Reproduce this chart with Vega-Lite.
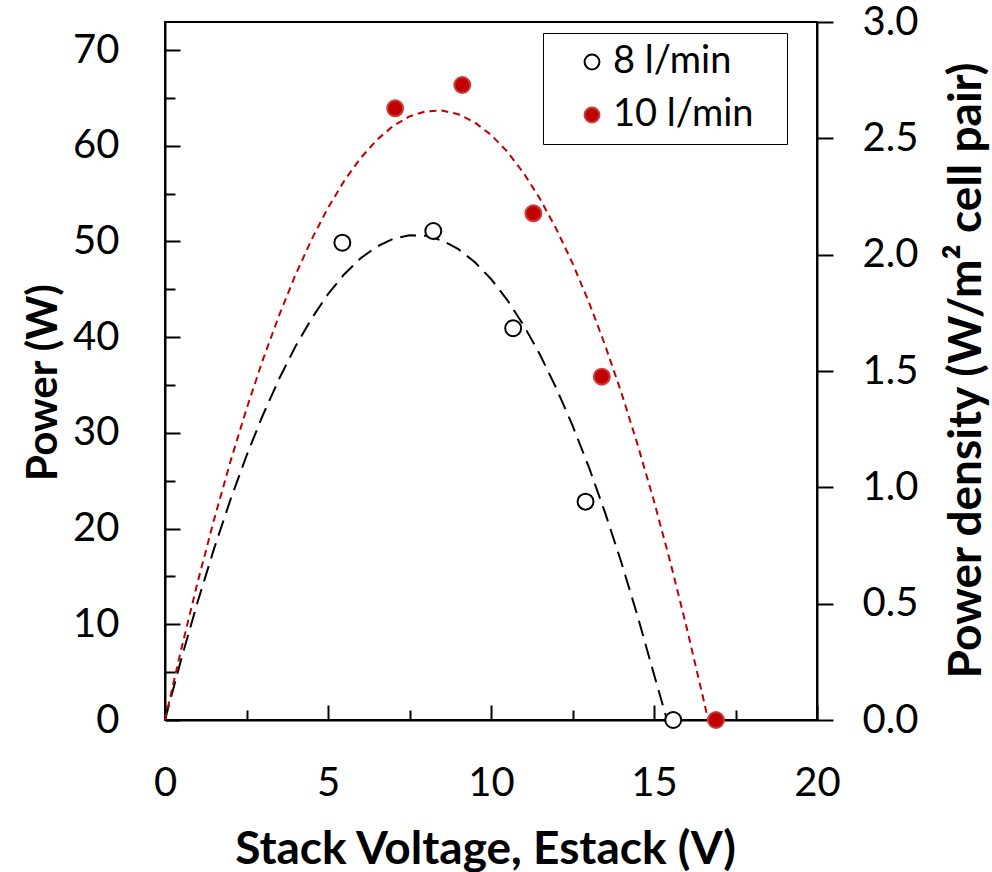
{
  "$schema": "https://vega.github.io/schema/vega-lite/v6.json",
  "width": 652,
  "height": 698,
  "autosize": {"type": "none"},
  "padding": {"left": 165, "top": 22, "right": 175, "bottom": 152},
  "background": "white",
  "config": {
    "font": "Lato",
    "view": {"stroke": "black", "strokeWidth": 2},
    "axis": {
      "grid": false,
      "domainColor": "black",
      "domainWidth": 2,
      "tickColor": "black",
      "tickWidth": 2,
      "labelColor": "black",
      "labelFont": "Lato",
      "labelFontSize": 40,
      "labelFlush": false,
      "labelOverlap": false,
      "titleFont": "Lato",
      "titleFontWeight": "bold",
      "titleFontSize": 46,
      "titleColor": "black"
    },
    "legend": {
      "orient": "none",
      "legendX": 378,
      "legendY": 11,
      "strokeColor": "black",
      "padding": 10,
      "labelFont": "Lato",
      "labelFontSize": 38,
      "labelColor": "black",
      "labelOffset": 2,
      "labelLimit": 400,
      "symbolOffset": 20,
      "rowPadding": 15,
      "symbolSize": 220,
      "symbolStrokeWidth": 2,
      "symbolType": "circle",
      "titleOrient": "right",
      "titleFontSize": 2,
      "titlePadding": 24
    }
  },
  "datasets": {
    "points": [
      {"V": 5.44, "P": 49.87, "flow": "8 l/min"},
      {"V": 8.23, "P": 51.09, "flow": "8 l/min"},
      {"V": 10.68, "P": 40.93, "flow": "8 l/min"},
      {"V": 12.90, "P": 22.81, "flow": "8 l/min"},
      {"V": 15.59, "P": 0, "flow": "8 l/min"},
      {"V": 7.06, "P": 63.91, "flow": "10 l/min"},
      {"V": 9.12, "P": 66.35, "flow": "10 l/min"},
      {"V": 11.30, "P": 52.94, "flow": "10 l/min"},
      {"V": 13.40, "P": 35.87, "flow": "10 l/min"},
      {"V": 16.90, "P": 0, "flow": "10 l/min"}
    ],
    "curves": [
      {"V": 0, "P": 0, "flow": "8 l/min"},
      {"V": 0.5, "P": 6.38, "flow": "8 l/min"},
      {"V": 1, "P": 12.33, "flow": "8 l/min"},
      {"V": 1.5, "P": 17.85, "flow": "8 l/min"},
      {"V": 2, "P": 22.94, "flow": "8 l/min"},
      {"V": 2.5, "P": 27.61, "flow": "8 l/min"},
      {"V": 3, "P": 31.84, "flow": "8 l/min"},
      {"V": 3.5, "P": 35.64, "flow": "8 l/min"},
      {"V": 4, "P": 39.02, "flow": "8 l/min"},
      {"V": 4.5, "P": 41.97, "flow": "8 l/min"},
      {"V": 5, "P": 44.49, "flow": "8 l/min"},
      {"V": 5.5, "P": 46.58, "flow": "8 l/min"},
      {"V": 6, "P": 48.24, "flow": "8 l/min"},
      {"V": 6.5, "P": 49.47, "flow": "8 l/min"},
      {"V": 7, "P": 50.27, "flow": "8 l/min"},
      {"V": 7.5, "P": 50.64, "flow": "8 l/min"},
      {"V": 8, "P": 50.59, "flow": "8 l/min"},
      {"V": 8.5, "P": 50.11, "flow": "8 l/min"},
      {"V": 9, "P": 49.19, "flow": "8 l/min"},
      {"V": 9.5, "P": 47.85, "flow": "8 l/min"},
      {"V": 10, "P": 46.08, "flow": "8 l/min"},
      {"V": 10.5, "P": 43.88, "flow": "8 l/min"},
      {"V": 11, "P": 41.24, "flow": "8 l/min"},
      {"V": 11.5, "P": 38.19, "flow": "8 l/min"},
      {"V": 12, "P": 34.69, "flow": "8 l/min"},
      {"V": 12.5, "P": 30.78, "flow": "8 l/min"},
      {"V": 13, "P": 26.44, "flow": "8 l/min"},
      {"V": 13.5, "P": 21.66, "flow": "8 l/min"},
      {"V": 14, "P": 16.45, "flow": "8 l/min"},
      {"V": 14.5, "P": 10.82, "flow": "8 l/min"},
      {"V": 15, "P": 4.76, "flow": "8 l/min"},
      {"V": 15.4, "P": 0, "flow": "8 l/min"},
      {"V": 0, "P": 0, "flow": "10 l/min"},
      {"V": 0.5, "P": 7.42, "flow": "10 l/min"},
      {"V": 1, "P": 14.38, "flow": "10 l/min"},
      {"V": 1.5, "P": 20.88, "flow": "10 l/min"},
      {"V": 2, "P": 26.92, "flow": "10 l/min"},
      {"V": 2.5, "P": 32.50, "flow": "10 l/min"},
      {"V": 3, "P": 37.62, "flow": "10 l/min"},
      {"V": 3.5, "P": 42.28, "flow": "10 l/min"},
      {"V": 4, "P": 46.49, "flow": "10 l/min"},
      {"V": 4.5, "P": 50.23, "flow": "10 l/min"},
      {"V": 5, "P": 53.52, "flow": "10 l/min"},
      {"V": 5.5, "P": 56.35, "flow": "10 l/min"},
      {"V": 6, "P": 58.71, "flow": "10 l/min"},
      {"V": 6.5, "P": 60.62, "flow": "10 l/min"},
      {"V": 7, "P": 62.07, "flow": "10 l/min"},
      {"V": 7.5, "P": 63.07, "flow": "10 l/min"},
      {"V": 8, "P": 63.60, "flow": "10 l/min"},
      {"V": 8.5, "P": 63.67, "flow": "10 l/min"},
      {"V": 9, "P": 63.29, "flow": "10 l/min"},
      {"V": 9.5, "P": 62.44, "flow": "10 l/min"},
      {"V": 10, "P": 61.14, "flow": "10 l/min"},
      {"V": 10.5, "P": 59.38, "flow": "10 l/min"},
      {"V": 11, "P": 57.15, "flow": "10 l/min"},
      {"V": 11.5, "P": 54.47, "flow": "10 l/min"},
      {"V": 12, "P": 51.33, "flow": "10 l/min"},
      {"V": 12.5, "P": 47.74, "flow": "10 l/min"},
      {"V": 13, "P": 43.68, "flow": "10 l/min"},
      {"V": 13.5, "P": 39.16, "flow": "10 l/min"},
      {"V": 14, "P": 34.19, "flow": "10 l/min"},
      {"V": 14.5, "P": 28.75, "flow": "10 l/min"},
      {"V": 15, "P": 22.86, "flow": "10 l/min"},
      {"V": 15.5, "P": 16.51, "flow": "10 l/min"},
      {"V": 16, "P": 9.69, "flow": "10 l/min"},
      {"V": 16.5, "P": 2.42, "flow": "10 l/min"},
      {"V": 16.66, "P": 0, "flow": "10 l/min"}
    ],
    "density": [
      {"V": 0, "D": 0},
      {"V": 20, "D": 3}
    ]
  },
  "layer": [
    {
      "data": {"name": "curves"},
      "transform": [{"filter": "datum.flow === '8 l/min'"}],
      "mark": {"type": "line", "stroke": "black", "strokeWidth": 2, "strokeDash": [16, 8]},
      "encoding": {
        "x": {
          "field": "V", "type": "quantitative",
          "scale": {"domain": [0, 20], "nice": false, "zero": false},
          "axis": {"orient": "bottom", "values": [2.5, 7.5, 12.5, 17.5], "labels": false, "domain": false, "tickSize": -10, "title": null}
        },
        "y": {
          "field": "P", "type": "quantitative",
          "scale": {"domain": [0, 72.93], "nice": false, "zero": false},
          "axis": {"orient": "left", "values": [5, 15, 25, 35, 45, 55, 65], "labels": false, "domain": false, "tickSize": -10, "title": null}
        }
      }
    },
    {
      "data": {"name": "curves"},
      "transform": [{"filter": "datum.flow === '10 l/min'"}],
      "mark": {"type": "line", "stroke": "#C00000", "strokeWidth": 2, "strokeDash": [7, 5]},
      "encoding": {
        "x": {"field": "V", "type": "quantitative", "scale": {"domain": [0, 20], "nice": false, "zero": false}, "axis": null},
        "y": {"field": "P", "type": "quantitative", "scale": {"domain": [0, 72.93], "nice": false, "zero": false}, "axis": null}
      }
    },
    {
      "data": {"name": "points"},
      "mark": {"type": "point", "shape": "circle", "filled": true, "size": 254, "strokeWidth": 2, "opacity": 1},
      "encoding": {
        "x": {
          "field": "V", "type": "quantitative",
          "scale": {"domain": [0, 20], "nice": false, "zero": false},
          "axis": {
            "orient": "bottom", "values": [0, 5, 10, 15, 20], "tickSize": -15, "labelPadding": 58,
            "title": "Stack Voltage, Estack (V)", "titleX": 320, "titleY": 143, "titleBaseline": "alphabetic", "titleAlign": "center"
          }
        },
        "y": {
          "field": "P", "type": "quantitative",
          "scale": {"domain": [0, 72.93], "nice": false, "zero": false},
          "axis": {
            "orient": "left", "values": [0, 10, 20, 30, 40, 50, 60, 70], "tickSize": -15, "labelPadding": 61,
            "title": "Power (W)", "titleFontSize": 42, "titleAngle": -90, "titleX": -109, "titleY": 360, "titleBaseline": "alphabetic", "titleAlign": "center"
          }
        },
        "fill": {
          "field": "flow", "type": "nominal",
          "scale": {"domain": ["8 l/min", "10 l/min"], "range": ["white", "#C00000"]},
          "legend": {"title": "\u00a0"}
        },
        "stroke": {
          "field": "flow", "type": "nominal",
          "scale": {"domain": ["8 l/min", "10 l/min"], "range": ["black", "#CC3a3a"]},
          "legend": {"title": "\u00a0"}
        }
      }
    },
    {
      "data": {"name": "density"},
      "mark": {"type": "point", "opacity": 0},
      "encoding": {
        "x": {"field": "V", "type": "quantitative", "scale": {"domain": [0, 20], "nice": false, "zero": false}, "axis": null},
        "y": {
          "field": "D", "type": "quantitative",
          "scale": {"domain": [0, 3], "nice": false, "zero": false},
          "axis": {
            "orient": "right", "values": [0, 0.5, 1, 1.5, 2, 2.5, 3], "format": ".1f", "tickSize": 16, "labelPadding": 29,
            "title": "Power density (W/m² cell pair)", "titleAngle": -90, "titleX": 163, "titleY": 348, "titleBaseline": "alphabetic", "titleAlign": "center"
          }
        }
      }
    }
  ],
  "resolve": {
    "scale": {"x": "independent", "y": "independent"},
    "axis": {"x": "independent", "y": "independent"}
  }
}
